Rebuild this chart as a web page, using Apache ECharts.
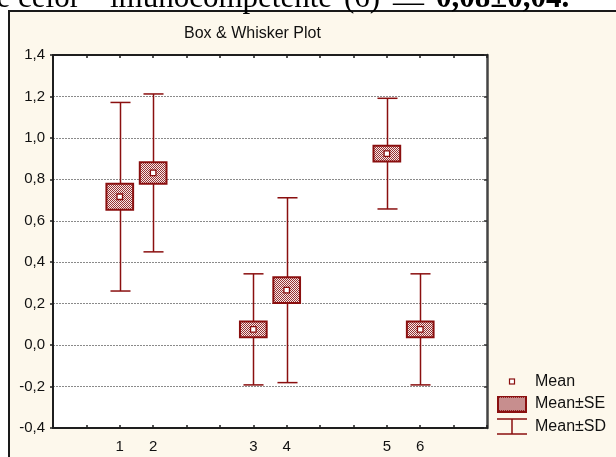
<!DOCTYPE html>
<html><head><meta charset="utf-8">
<script src="https://cdn.jsdelivr.net/npm/echarts@6/dist/echarts.min.js"></script>
<style>html,body{margin:0;padding:0;background:#fff;}#c{width:616px;height:457px;}</style>
</head><body><div id="c"></div>
<script>
// ---- data ----
const categories = ['1', '2', '3', '4', '5', '6'];
const slots = [2, 3, 6, 7, 10, 11];            // x position of each group on the 0..13 axis
const means = [0.716, 0.831, 0.076, 0.265, 0.924, 0.076];
const se = [0.063, 0.052, 0.038, 0.062, 0.038, 0.038];
const sd = [0.455, 0.381, 0.268, 0.446, 0.267, 0.268];
const yMin = -0.4, yMax = 1.4, yStep = 0.2;
const titleText = 'Box & Whisker Plot';
const legendNames = ['Mean', 'Mean±SE', 'Mean±SD'];

const RED = '#8a0f0f';
const FONT = '"Liberation Sans", Arial, sans-serif';
const SERIF = '31px "Liberation Serif", serif';

function makePatternCanvas() {
  const c = document.createElement('canvas');
  c.width = 2; c.height = 2;
  const g = c.getContext('2d');
  g.fillStyle = '#f7e9e9'; g.fillRect(0, 0, 2, 2);
  g.fillStyle = '#973434'; g.fillRect(0, 0, 1, 1); g.fillRect(1, 1, 1, 1);
  return c;
}
const patternCanvas = makePatternCanvas();
const boxFill = { image: patternCanvas, repeat: 'repeat' };

function iconURL(kind) {
  const c = document.createElement('canvas');
  c.width = 30; c.height = 17;
  const g = c.getContext('2d');
  if (kind === 'mean') {
    g.fillStyle = '#fff'; g.fillRect(12.5, 6, 5, 5);
    g.strokeStyle = RED; g.lineWidth = 1.2; g.strokeRect(12.5, 6, 5, 5);
  } else if (kind === 'se') {
    g.fillStyle = g.createPattern(patternCanvas, 'repeat');
    g.fillRect(0, 0, 30, 17);
    g.strokeStyle = RED; g.lineWidth = 2; g.strokeRect(1, 1, 28, 15);
  } else {
    g.strokeStyle = RED; g.lineWidth = 1.5;
    g.beginPath();
    g.moveTo(0, 1); g.lineTo(30, 1);
    g.moveTo(0, 16); g.lineTo(30, 16);
    g.moveTo(15, 1); g.lineTo(15, 16);
    g.stroke();
  }
  return 'image://' + c.toDataURL();
}

const labelAt = {};
slots.forEach((s, i) => { labelAt[s] = categories[i]; });

const sdData = slots.map((s, i) => [s, means[i], means[i] - sd[i], means[i] + sd[i]]);
const seData = slots.map((s, i) => [s, means[i], means[i] - se[i], means[i] + se[i]]);
const meanData = slots.map((s, i) => [s, means[i]]);

function renderSD(params, api) {
  const x = api.value(0);
  const pLo = api.coord([x, api.value(2)]);
  const pHi = api.coord([x, api.value(3)]);
  const hw = api.size([1, 0])[0] * 0.3;
  const style = { stroke: RED, lineWidth: 1.5, fill: null };
  const cx = Math.round(pLo[0]) + 0.5;
  return {
    type: 'group', children: [
      { type: 'line', shape: { x1: cx, y1: pLo[1], x2: cx, y2: pHi[1] }, style },
      { type: 'line', shape: { x1: cx - hw, y1: pLo[1], x2: cx + hw, y2: pLo[1] }, style },
      { type: 'line', shape: { x1: cx - hw, y1: pHi[1], x2: cx + hw, y2: pHi[1] }, style }
    ]
  };
}
function renderSE(params, api) {
  const x = api.value(0);
  const pLo = api.coord([x, api.value(2)]);
  const pHi = api.coord([x, api.value(3)]);
  const w = api.size([1, 0])[0] * 0.8;
  return {
    type: 'rect',
    shape: { x: pLo[0] - w / 2, y: pHi[1], width: w, height: pLo[1] - pHi[1] },
    style: { fill: boxFill, stroke: RED, lineWidth: 2 }
  };
}
function renderMean(params, api) {
  const p = api.coord([api.value(0), api.value(1)]);
  const s = 5.5;
  return {
    type: 'rect',
    shape: { x: p[0] - s / 2, y: p[1] - s / 2, width: s, height: s },
    style: { fill: '#fff', stroke: RED, lineWidth: 1.3 }
  };
}

const chart = echarts.init(document.getElementById('c'), null, { renderer: 'canvas' });
const axisLineStyle = { color: '#1e1e1e', width: 2 };
chart.setOption({
  animation: false,
  backgroundColor: '#fff',
  graphic: [
    { type: 'rect', z: -100, shape: { x: 9, y: 11, width: 620, height: 460 },
      style: { fill: '#fdf8ec', stroke: '#1a1a1a', lineWidth: 2 } },
    { type: 'text', z: -50, x: -19, y: -1, style: { text: 'de celor', font: SERIF, fill: '#000', verticalAlign: 'middle' } },
    { type: 'text', z: -50, x: 110, y: -1, style: { text: 'imunocompetente', font: SERIF, fill: '#000', verticalAlign: 'middle' } },
    { type: 'text', z: -50, x: 344, y: -1, style: { text: '(6)', font: SERIF, fill: '#000', verticalAlign: 'middle' } },
    { type: 'text', z: -50, x: 393, y: 4, style: { text: '—', font: SERIF, fill: '#000', verticalAlign: 'middle' } },
    { type: 'text', z: -50, x: 436, y: -1, style: { text: '0,08±0,04.', font: 'bold ' + SERIF, fill: '#000', verticalAlign: 'middle' } }
  ],
  title: {
    text: titleText, left: 184, top: 26, padding: 0,
    textStyle: { fontFamily: FONT, fontSize: 16, fontWeight: 'normal', color: '#111' }
  },
  legend: {
    orient: 'vertical', left: 497, top: 373, padding: 0,
    itemWidth: 30, itemHeight: 17, itemGap: 5.5, selectedMode: false,
    textStyle: { fontFamily: FONT, fontSize: 16, color: '#111', padding: [0, 0, 0, 3] },
    data: [
      { name: legendNames[0], icon: iconURL('mean') },
      { name: legendNames[1], icon: iconURL('se') },
      { name: legendNames[2], icon: iconURL('sd') }
    ]
  },
  grid: { left: 53, top: 55, width: 434, height: 373, show: true, backgroundColor: '#fff', borderWidth: 0 },
  xAxis: [
    { type: 'value', position: 'bottom', min: 0, max: 13, interval: 1,
      axisLine: { show: true, onZero: false, lineStyle: axisLineStyle },
      axisTick: { show: true, inside: true, length: 3, lineStyle: { color: '#1e1e1e', width: 1.5 } },
      axisLabel: { margin: 11, fontFamily: FONT, fontSize: 15, color: '#111', formatter: v => labelAt[Math.round(v)] || '' },
      splitLine: { show: false } },
    { type: 'value', position: 'top', min: 0, max: 13, interval: 1,
      axisLine: { show: true, onZero: false, lineStyle: axisLineStyle },
      axisTick: { show: true, inside: true, length: 3, lineStyle: { color: '#1e1e1e', width: 1.5 } },
      axisLabel: { show: false }, splitLine: { show: false } }
  ],
  yAxis: [
    { type: 'value', position: 'left', min: yMin, max: yMax, interval: yStep,
      axisLine: { show: true, onZero: false, lineStyle: axisLineStyle },
      axisTick: { show: true, inside: false, length: 3, lineStyle: { color: '#1e1e1e', width: 1.5 } },
      axisLabel: { margin: 8, fontFamily: FONT, fontSize: 15, color: '#111', formatter: v => v.toFixed(1).replace('.', ',') },
      splitLine: { show: true, lineStyle: { type: [2, 1], color: '#8a8a8a', width: 1 } } },
    { type: 'value', position: 'right', min: yMin, max: yMax, interval: yStep,
      axisLine: { show: true, onZero: false, lineStyle: { color: '#444', width: 2.5 } },
      axisTick: { show: true, inside: true, length: 3, lineStyle: { color: '#333', width: 1.5 } },
      axisLabel: { show: false }, splitLine: { show: false } }
  ],
  series: [
    { name: legendNames[2], type: 'custom', renderItem: renderSD, data: sdData, itemStyle: { color: RED },
      encode: { x: 0, y: [1, 2, 3] }, z: 2 },
    { name: legendNames[1], type: 'custom', renderItem: renderSE, data: seData, itemStyle: { color: RED },
      encode: { x: 0, y: [1, 2, 3] }, z: 3 },
    { name: legendNames[0], type: 'custom', renderItem: renderMean, data: meanData, itemStyle: { color: RED },
      encode: { x: 0, y: 1 }, z: 4 }
  ]
});
</script></body></html>
